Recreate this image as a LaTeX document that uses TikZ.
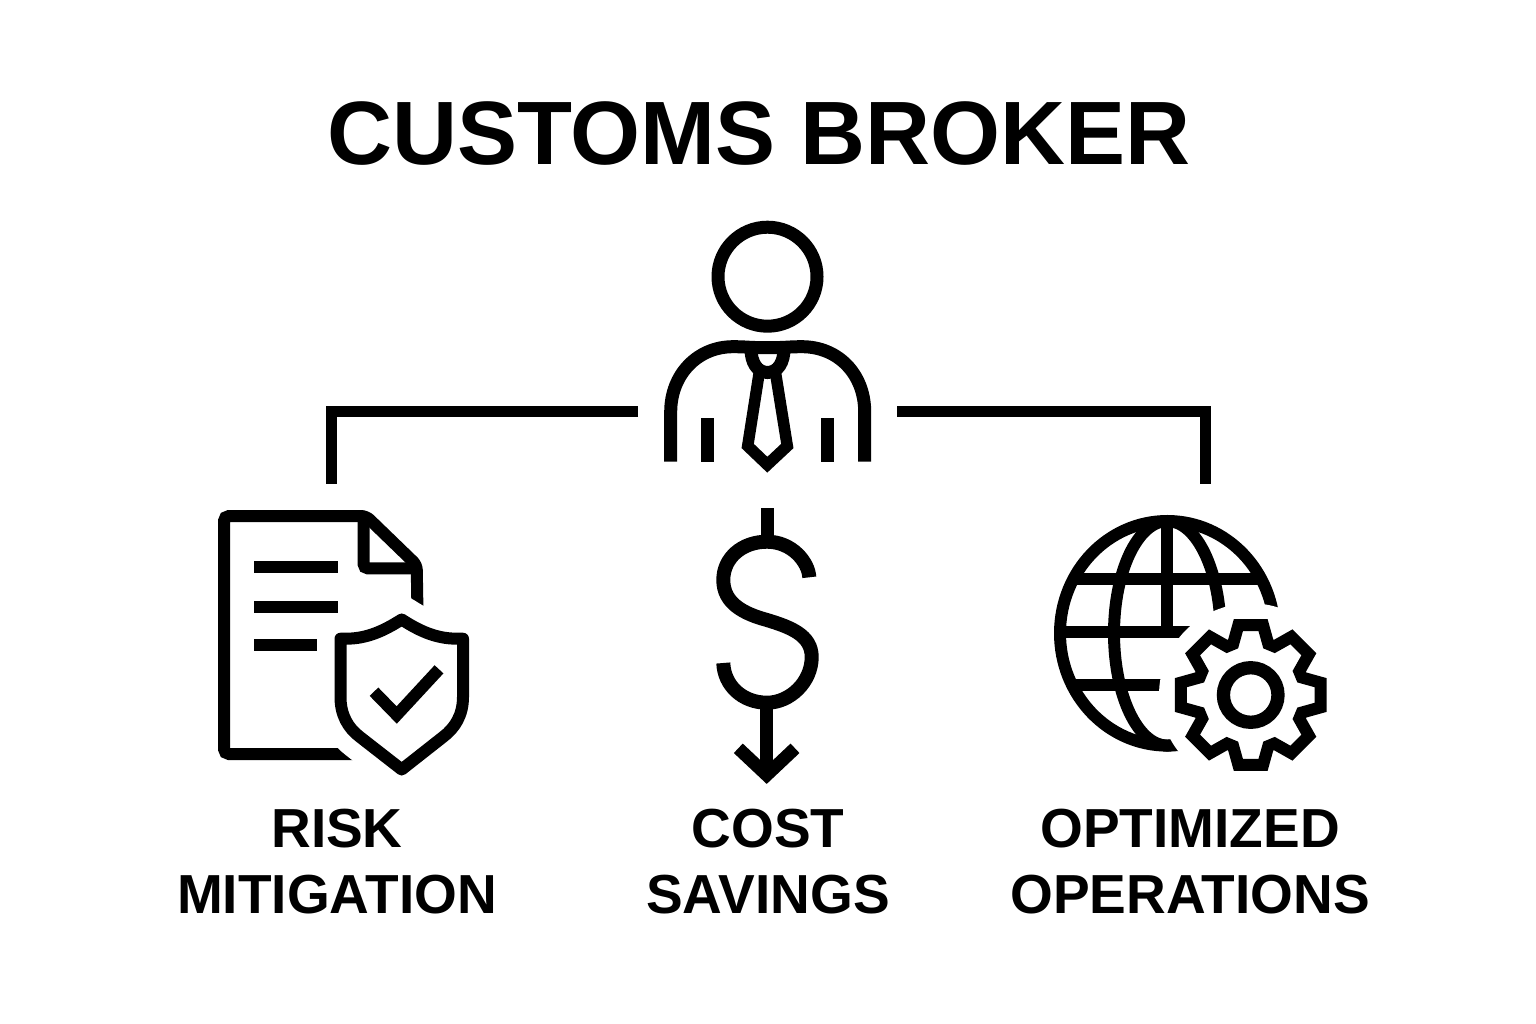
\documentclass[tikz,border=0pt]{standalone}
\usepackage{fontspec}
\setmainfont{Liberation Sans}
\usetikzlibrary{positioning}
\newcommand{\shieldpath}{(401.7,619.5) .. controls (385,630) and (368,638.7) .. (346,638.7)
   -- (340.5,638.7) -- (340.5,697) .. controls (340.5,715) and (348,728) .. (360,737)
   -- (401.7,769.5) -- (443,737) .. controls (455,728) and (463,715) .. (463,697)
   -- (463,638.7) -- (457,638.7) .. controls (435,638.7) and (418,630) .. (401.7,619.5) -- cycle}
\begin{document}
\begin{tikzpicture}[
     x=1pt, y=-1pt,
     line join=miter,
     icon/.style = {draw=black, line width=#1},
     icon/.default = 13pt,
     link/.style = {draw=black, line width=11pt},
  headline/.style = {font=\fontsize{90}{100}\selectfont\bfseries, inner sep=0pt},
      txt/.style = {font=\fontsize{55}{66}\selectfont\bfseries, align=center, inner sep=0pt}
                        ]
\useasboundingbox (0,0) rectangle (1536,1024);
\node (title) [headline] at (759,134) {CUSTOMS BROKER};
\node (risk) [txt] at (337,862) {RISK\\MITIGATION};
\node (cost) [txt] at (768,862) {COST\\SAVINGS};
\node (ops) [txt] at (1190,862) {OPTIMIZED\\OPERATIONS};
\coordinate (brokerL) at (638,411);
\coordinate (brokerR) at (897,411);
\coordinate (riskT) at (331,484);
\coordinate (opsT) at (1205,484);
\draw[link] (brokerL) -| (riskT);
\draw[link] (brokerR) -| (opsT);
% broker
\draw[icon] (767.5,276.7) circle (49.5);
\draw[icon] (670.7,461.7) -- (670.7,412) .. controls (670.7,374) and (698,346.7) .. (733,346.7)
   .. controls (745,346.7) and (750,347.5) .. (755,347.5) -- (780,347.5)
   .. controls (785,347.5) and (790,346.7) .. (802,346.7)
   .. controls (838,346.7) and (864.7,374) .. (864.7,412) -- (864.7,461.7);
\draw[icon] (707.5,418) -- (707.5,461.7);
\draw[icon] (827.5,418) -- (827.5,461.7);
\draw[icon] (751,349) .. controls (751,362) and (757,372.5) .. (767.5,372.5)
   .. controls (778,372.5) and (784,362) .. (784,349);
\draw[icon=11.5pt] (759,374) -- (747.7,446) -- (767.3,464.7) -- (787.3,446) -- (775.7,374);
% document
\draw[icon=12pt, rounded corners=5pt] (380,754) -- (224,754) -- (224,516) -- (366,516) -- (416.7,565) -- (417.7,625);
\draw[icon=12pt, rounded corners=4pt] (363.7,516) -- (363.7,568.3) -- (417,568.3);
\draw[icon=12pt] (254,566.7) -- (337.7,566.7);
\draw[icon=12pt] (254,606.7) -- (337.7,606.7);
\draw[icon=12pt] (254,645.3) -- (316.7,645.3);
% shield
\path[draw=white, fill=white, line width=46pt, line join=round] \shieldpath;
\draw[icon=12pt, line join=round] \shieldpath;
\draw[icon=12pt] (374,691.7) -- (396.7,715) -- (439,669.3);
% dollar
\draw[icon] (767.3,508) -- (767.3,536);
\draw[icon=14pt] (809.3,577.3) .. controls (808.5,562) and (792,541.7) .. (767,541.7)
   .. controls (742,541.7) and (723.3,558) .. (723.3,580)
   .. controls (723.3,604) and (745,614) .. (767,620)
   .. controls (790,627) and (811.7,635) .. (811.7,657)
   .. controls (811.7,682) and (790,702.7) .. (767,702.7)
   .. controls (742,702.7) and (724,685) .. (723.3,663);
\draw[icon] (766.7,702) -- (766.7,775);
\draw[icon] (738.3,748.3) -- (766.7,775) -- (795,748.3);
% globe
\draw[icon=12pt] (1167.3,633.3) ellipse (107.3 and 112.3);
\draw[icon=12pt] (1167.3,633.3) ellipse (53.3 and 112.3);
\draw[icon=12pt] (1167.3,521) -- (1167.3,632);
\draw[icon=12pt] (1073,579.3) -- (1261,579.3);
\draw[icon=12pt] (1060,632) -- (1200,632);
\draw[icon=12pt] (1072,685.3) -- (1200,685.3);
\fill[white] (1250.7,695) circle (91.7);
% gear
\draw[icon=12pt, shift={(1250.7,695)}] (-10:71)
   \foreach \a in {0,45,...,315} { -- (\a-10:71) -- (\a+10:71) -- (\a+19:54) -- (\a+26:54) } -- cycle;
\draw[icon=13.3pt] (1250.7,695) circle (27.3);
\end{tikzpicture}
\end{document}
